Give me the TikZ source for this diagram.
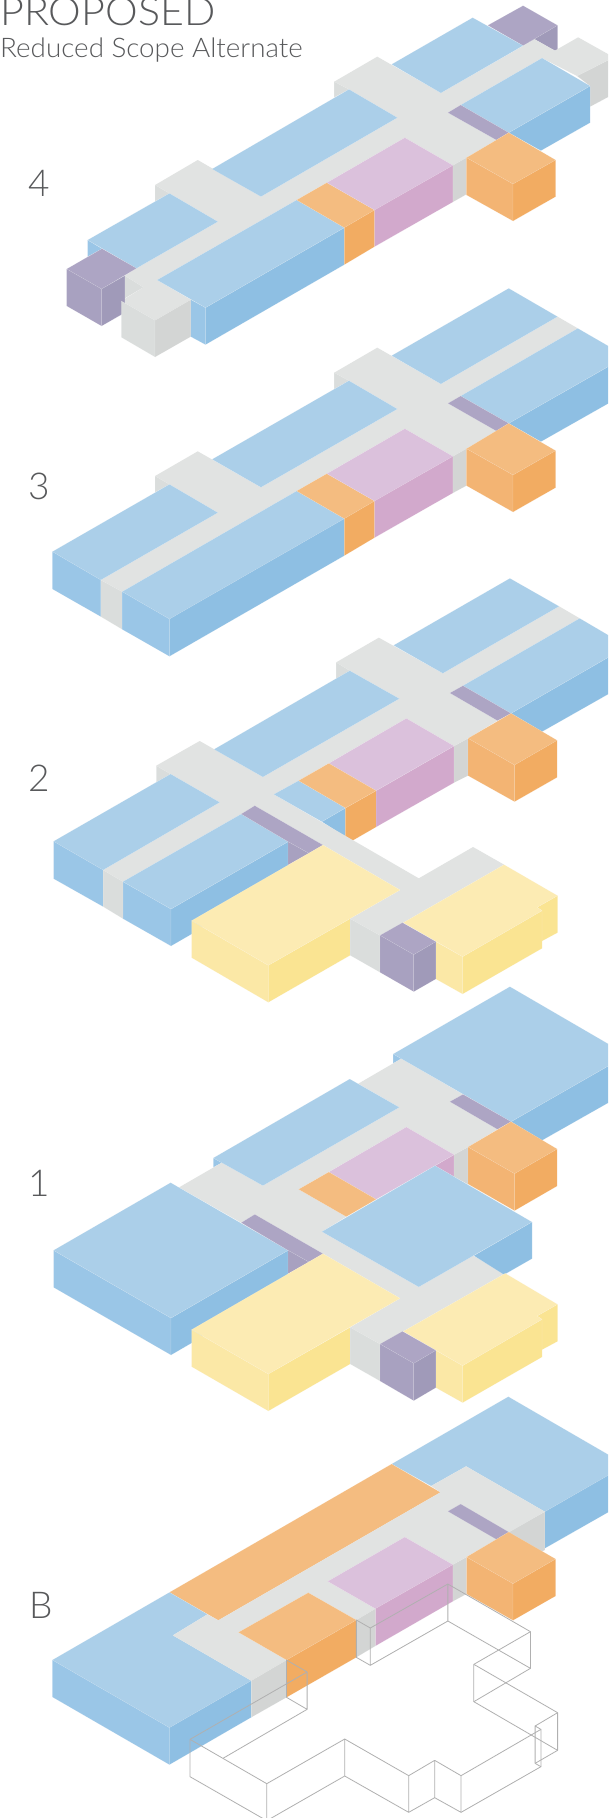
\documentclass[tikz,border=0pt]{standalone}
\usepackage{fontspec}
\setmainfont{Lato Light}
\definecolor{cbt}{HTML}{ABCFE9}\definecolor{cbr}{HTML}{8EBFE3}\definecolor{cbl}{HTML}{9AC6E7}
\definecolor{cgt}{HTML}{E1E3E2}\definecolor{cgr}{HTML}{D3D5D4}\definecolor{cgl}{HTML}{DADDDC}
\definecolor{cot}{HTML}{F4BC80}\definecolor{col}{HTML}{F3B473}\definecolor{cor}{HTML}{F2AC62}
\definecolor{cpt}{HTML}{DBC1DC}\definecolor{cpr}{HTML}{D2A9CC}
\definecolor{cvt}{HTML}{ADA5C4}\definecolor{cvl}{HTML}{A8A1C0}\definecolor{cvr}{HTML}{A09AB9}
\definecolor{cyt}{HTML}{FCEBB3}\definecolor{cyl}{HTML}{FBE8A6}\definecolor{cyr}{HTML}{FAE492}
\definecolor{ctxt}{HTML}{58595B}
\tikzset{
 face/.style={draw=white,draw opacity=.25,line width=.25pt,line join=round},
 bt/.style={face,fill=cbt},br/.style={face,fill=cbr},bl/.style={face,fill=cbl},
 gt/.style={fill=cgt},gr/.style={face,fill=cgr},gl/.style={face,fill=cgl},
 ot/.style={face,fill=cot},ol/.style={face,fill=col},or/.style={face,fill=cor},
 pt/.style={face,fill=cpt},pr/.style={face,fill=cpr},
 vt/.style={face,fill=cvt},vl/.style={face,fill=cvl},vr/.style={face,fill=cvr},
 yt/.style={face,fill=cyt},yl/.style={face,fill=cyl},yr/.style={face,fill=cyr},
 wire/.style={draw=black!31,line width=.8pt,line join=round},
 numlabel/.style={text=ctxt,font=\fontsize{37}{37}\selectfont,anchor=base,inner sep=0pt},
}
\newcommand{\pg}[2]{\path[#1] plot coordinates {#2} -- cycle;}
\newcommand{\wl}[1]{\draw[wire] plot coordinates {#1};}
\begin{document}
\begin{tikzpicture}[x=1pt,y=-1pt]
\useasboundingbox (0,0) rectangle (608,1818);
\clip (0,0) rectangle (608,1818);
\fill[white] (0,0) rectangle (608,1818);
\node[text=ctxt,anchor=base west,inner sep=0pt,font=\fontsize{39}{39}\selectfont,xscale=1.057,transform shape] (title) at (0,25) {PROPOSED};
\node[text=ctxt,anchor=base west,inner sep=0pt,font=\fontsize{27}{27}\selectfont,xscale=1.03,transform shape] (subtitle) at (0,57) {Reduced Scope Alternate};
\node[numlabel] (n4) at (39,196) {4};
\node[numlabel] (n3) at (39,499) {3};
\node[numlabel] (n2) at (39,791) {2};
\node[numlabel] (n1) at (39,1196) {1};
\node[numlabel] (nB) at (41,1618) {B};
% ---- 4
\begin{scope}[shift={(0,0)},x=0.38776pt,y=-0.33333pt]
\pg{vt}{(1349,17)(1438,76)(1349,137)(1258,76)}
\pg{vr}{(1349,137)(1438,76)(1438,150)(1431,152)(1379,118)}
\pg{gr}{(1488,228)(1583,172)(1583,282)(1522,320)(1522,258)}
\pg{gl}{(862,245)(900,268)(862,292)}
\pg{gl}{(400,555)(437,580)(400,604)}
\pg{bl}{(226,720)(263,746)(226,770)}
\pg{gt}{(973,170)(1137,279)(1379,118)(1431,152)(1491,112)(1583,172)(1488,228)(1398,174)(1188,315)(1155,338)(1280,420)(1203,473)(1168,496)(1044,413)(765,600)(405,840)(492,899)(400,961)(313,903)(370,862)(322,827)(352,805)(562,665)(437,580)(400,555)(510,480)(673,590)(1025,353)(900,268)(862,245)}
\pg{gl}{(322,827)(370,862)(322,895)}
\pg{bt}{(1219,53)(1349,137)(1137,279)(1010,193)}
\pg{bt}{(900,268)(1025,353)(673,590)(547,507)}
\pg{bt}{(226,720)(437,580)(562,665)(352,805)}
\pg{vt}{(263,746)(352,805)(262,867)(172,807)}
\pg{vl}{(172,807)(262,867)(262,978)(172,918)}
\pg{vr}{(262,867)(322,827)(322,938)(262,978)}
\pg{gl}{(313,903)(400,961)(400,1071)(313,1012)}
\pg{gr}{(400,961)(492,899)(492,1010)(400,1071)}
\pg{bl}{(492,899)(530,923)(530,1034)(492,1010)}
\pg{br}{(530,923)(888,683)(888,794)(530,1034)}
\pg{bt}{(405,840)(765,600)(888,683)(530,923)}
\pg{ot}{(765,600)(843,548)(966,630)(888,683)}
\pg{or}{(888,683)(966,630)(966,740)(888,794)}
\pg{pt}{(843,548)(1044,413)(1168,496)(966,630)}
\pg{pr}{(966,630)(1168,496)(1168,606)(966,740)}
\pg{gr}{(1168,496)(1203,473)(1203,583)(1168,606)}
\pg{br}{(1312,398)(1522,258)(1522,368)(1395,452)}
\pg{bt}{(1398,174)(1522,258)(1312,398)(1188,315)}
\pg{vt}{(1155,338)(1188,315)(1312,398)(1280,420)}
\pg{ot}{(1312,398)(1433,480)(1323,552)(1203,473)}
\pg{ol}{(1203,473)(1323,552)(1323,663)(1203,585)}
\pg{or}{(1323,552)(1433,480)(1433,590)(1323,663)}
\end{scope}
% ---- 3
\begin{scope}[shift={(0,270)},x=0.38776pt,y=-0.33333pt]
\pg{gl}{(862,308)(900,332)(862,357)}
\pg{gl}{(400,618)(437,643)(400,667)}
\pg{gt}{(973,233)(1137,342)(1438,140)(1490,175)(1188,378)(1155,400)(1280,483)(1203,536)(1168,559)(1044,476)(765,663)(315,965)(260,930)(562,728)(437,643)(400,618)(510,544)(673,652)(1025,417)(900,332)(862,308)}
\pg{bt}{(1312,55)(1438,140)(1137,342)(1010,257)}
\pg{bt}{(900,332)(1025,417)(673,652)(547,568)}
\pg{br}{(1312,460)(1615,259)(1615,370)(1395,515)}
\pg{bt}{(1490,175)(1615,259)(1312,460)(1188,378)}
\pg{vt}{(1155,400)(1188,378)(1312,460)(1280,483)}
\pg{bt}{(135,845)(437,643)(562,728)(260,930)}
\pg{bl}{(135,845)(260,930)(260,1040)(135,957)}
\pg{gl}{(260,930)(315,965)(315,1078)(260,1040)}
\pg{bt}{(315,965)(765,663)(888,746)(437,1047)}
\pg{br}{(437,1047)(888,746)(888,857)(437,1159)}
\pg{bl}{(315,965)(437,1047)(437,1159)(315,1078)}
\pg{ot}{(765,663)(843,611)(966,693)(888,746)}
\pg{or}{(888,746)(966,693)(966,803)(888,857)}
\pg{pt}{(843,611)(1044,476)(1168,559)(966,693)}
\pg{pr}{(966,693)(1168,559)(1168,669)(966,803)}
\pg{gr}{(1168,559)(1203,536)(1203,647)(1168,669)}
\pg{ot}{(1312,460)(1433,542)(1323,615)(1203,536)}
\pg{ol}{(1203,536)(1323,615)(1323,726)(1203,647)}
\pg{or}{(1323,615)(1433,542)(1433,653)(1323,726)}
\end{scope}
% ---- 2
\begin{scope}[shift={(0,570)},x=0.38776pt,y=-0.33333pt]
\pg{gl}{(867,277)(902,302)(867,326)}
\pg{gl}{(403,587)(440,612)(403,637)}
\pg{br}{(830,755)(891,714)(891,800)}
\pg{or}{(891,714)(970,662)(970,771)(891,824)}
\pg{pr}{(970,662)(1171,528)(1171,638)(970,771)}
\pg{gr}{(1171,528)(1207,505)(1207,617)(1171,638)}
\pg{br}{(1318,430)(1618,229)(1618,340)(1398,485)}
\pg{bl}{(317,935)(441,1017)(441,1128)(317,1046)}
\pg{br}{(441,1017)(743,815)(743,925)(441,1128)}
\pg{gt}{(977,203)(1142,310)(1442,109)(1495,145)(1194,347)(1160,369)(1283,452)(1207,505)(1171,528)(1048,445)(770,632)(706,673)(1080,925)(1220,831)(1300,884)(1040,1058)(980,1096)(903,1046)(1032,960)(833,825)(657,707)(622,732)(317,935)(266,900)(567,697)(440,612)(403,587)(515,513)(678,621)(1030,386)(902,302)(867,277)}
\pg{bt}{(1315,25)(1442,109)(1142,310)(1015,226)}
\pg{bt}{(706,673)(770,632)(891,714)(830,755)}
\pg{bt}{(1495,145)(1618,229)(1318,430)(1194,347)}
\pg{vt}{(1160,369)(1194,347)(1318,430)(1283,452)}
\pg{ot}{(1318,430)(1437,511)(1327,585)(1207,505)}
\pg{ol}{(1207,505)(1327,585)(1327,695)(1207,617)}
\pg{or}{(1327,585)(1437,511)(1437,622)(1327,695)}
\pg{pt}{(848,580)(1048,445)(1171,528)(970,662)}
\pg{ot}{(770,632)(848,580)(970,662)(891,714)}
\pg{bt}{(902,302)(1030,386)(678,621)(552,538)}
\pg{bt}{(138,814)(440,612)(567,697)(266,900)}
\pg{bl}{(138,814)(266,900)(266,1010)(138,926)}
\pg{gl}{(266,900)(317,935)(317,1046)(266,1010)}
\pg{bt}{(317,935)(622,732)(743,815)(441,1017)}
\pg{vt}{(622,732)(657,707)(833,825)(797,850)(743,815)}
\pg{vl}{(743,815)(797,850)(743,885)}
\pg{yl}{(494,1052)(692,1186)(692,1297)(494,1163)}
\pg{yr}{(692,1186)(903,1046)(903,1156)(692,1297)}
\pg{yt}{(833,825)(1032,960)(692,1186)(494,1052)}
\pg{gl}{(903,1046)(980,1096)(980,1207)(903,1156)}
\pg{yr}{(1385,1012)(1438,977)(1438,1088)(1398,1113)(1398,1022)}
\pg{yl}{(1124,1115)(1193,1160)(1193,1272)(1124,1227)}
\pg{yr}{(1193,1160)(1398,1022)(1398,1135)(1193,1272)}
\pg{yt}{(1300,884)(1438,977)(1385,1012)(1398,1022)(1193,1160)(1040,1058)}
\pg{vt}{(1038,1058)(1124,1115)(1067,1154)(980,1096)}
\pg{vl}{(980,1096)(1067,1154)(1067,1265)(980,1207)}
\pg{vr}{(1067,1154)(1124,1115)(1124,1227)(1067,1265)}
\end{scope}
% ---- 1
\begin{scope}[shift={(0,980)},x=0.38776pt,y=-0.33333pt]
\pg{bl}{(1014,222)(1035,236)(1014,250)}
\pg{bl}{(550,534)(572,548)(550,562)}
\pg{br}{(1318,425)(1618,225)(1618,336)(1398,481)}
\pg{pr}{(1122,557)(1171,524)(1171,590)}
\pg{gr}{(1171,524)(1207,501)(1207,613)(1171,590)}
\pg{gt}{(1035,236)(1194,343)(1160,365)(1283,448)(1207,501)(1171,524)(1048,441)(770,628)(893,710)(830,755)(1080,921)(1220,827)(1303,880)(1040,1054)(980,1092)(903,1042)(1032,955)(833,821)(657,703)(622,728)(462,622)(572,548)(678,617)(1030,382)(924,311)}
\pg{bt}{(1315,20)(1618,225)(1318,425)(1014,222)}
\pg{vt}{(1160,365)(1194,343)(1318,425)(1283,448)}
\pg{bt}{(902,297)(1030,382)(678,617)(550,534)}
\pg{pt}{(848,576)(1048,441)(1171,524)(970,658)}
\pg{ot}{(770,628)(848,576)(970,658)(893,710)}
\pg{ot}{(1318,425)(1437,507)(1327,581)(1207,501)}
\pg{ol}{(1207,501)(1327,581)(1327,692)(1207,612)}
\pg{or}{(1327,581)(1437,507)(1437,618)(1327,692)}
\pg{br}{(1222,827)(1372,726)(1372,836)(1300,884)}
\pg{bt}{(1122,557)(1372,726)(1080,921)(830,755)}
\pg{bl}{(138,811)(441,1014)(441,1125)(138,922)}
\pg{br}{(441,1014)(743,811)(743,921)(441,1125)}
\pg{bt}{(138,811)(440,608)(743,811)(441,1014)}
\pg{vt}{(622,728)(657,703)(833,821)(797,846)(743,811)}
\pg{vl}{(743,811)(797,846)(743,881)}
\pg{yl}{(494,1049)(692,1182)(692,1293)(494,1160)}
\pg{yr}{(692,1182)(903,1042)(903,1152)(692,1293)}
\pg{yt}{(833,821)(1032,955)(692,1182)(494,1049)}
\pg{gl}{(903,1042)(980,1092)(980,1203)(903,1152)}
\pg{yr}{(1385,1008)(1438,973)(1438,1084)(1398,1109)(1398,1018)}
\pg{yl}{(1124,1111)(1193,1157)(1193,1268)(1124,1223)}
\pg{yr}{(1193,1157)(1398,1018)(1398,1131)(1193,1268)}
\pg{yt}{(1303,880)(1438,973)(1385,1008)(1398,1018)(1193,1157)(1040,1054)}
\pg{vt}{(1038,1054)(1124,1111)(1067,1150)(980,1092)}
\pg{vl}{(980,1092)(1067,1150)(1067,1262)(980,1203)}
\pg{vr}{(1067,1150)(1124,1111)(1124,1223)(1067,1262)}
\end{scope}
% ---- B
\begin{scope}[shift={(0,1390)},x=0.38776pt,y=-0.33333pt]
\pg{bt}{(1311,20)(1615,225)(1405,365)(1202,229)(1112,288)(1010,222)}
\pg{br}{(1405,365)(1615,225)(1615,336)(1405,475)}
\pg{ot}{(1010,222)(1136,307)(563,691)(437,607)}
\pg{bt}{(135,810)(437,607)(535,673)(446,736)(648,872)(437,1013)}
\pg{bl}{(135,810)(437,1013)(437,1124)(135,921)}
\pg{br}{(437,1013)(648,872)(648,982)(437,1124)}
\pg{gr}{(1312,426)(1405,365)(1405,480)(1312,540)}
\pg{gt}{(1202,229)(1405,365)(1168,524)(1044,441)(845,574)(968,656)(919,690)(795,608)(615,727)(739,810)(648,872)(446,736)(535,673)(563,691)(1136,307)(1112,288)}
\pg{vt}{(1155,364)(1188,342)(1312,426)(1280,448)}
\pg{ot}{(1312,426)(1433,507)(1323,581)(1203,501)}
\pg{ol}{(1203,501)(1323,581)(1323,691)(1203,612)}
\pg{or}{(1323,581)(1433,507)(1433,618)(1323,691)}
\pg{pt}{(845,574)(1044,441)(1168,524)(968,656)}
\pg{pr}{(968,656)(1168,524)(1168,634)(968,768)}
\pg{gr}{(1168,524)(1203,501)(1203,612)(1168,634)}
\pg{gr}{(919,690)(968,656)(968,768)(919,802)}
\pg{ot}{(795,608)(919,690)(739,810)(615,727)}
\pg{or}{(739,810)(919,690)(919,802)(739,922)}
\pg{gr}{(648,872)(739,810)(739,922)(648,982)}
\wl{(739,922)(739,810)(792,846)(792,958)(739,922)}
\wl{(792,846)(490,1048)(490,1160)(688,1292)(688,1181)(490,1048)}
\wl{(792,958)(575,1105)}
\wl{(688,1181)(889,1047)(889,1158)(688,1292)}
\wl{(889,1047)(1054,1157)(1054,1267)(889,1158)}
\wl{(1054,1157)(1121,1111)(1121,1223)(1054,1267)}
\wl{(1121,1111)(1189,1157)(1189,1267)(1121,1223)}
\wl{(1189,1157)(1395,1018)(1395,1130)(1189,1267)}
\wl{(1395,1018)(1380,1008)(1380,1120)(1395,1130)}
\wl{(1380,1008)(1438,968)(1438,1081)(1380,1120)}
\wl{(1438,968)(1222,823)(1222,935)(1438,1081)}
\wl{(1222,823)(1368,725)(1368,835)(1222,935)}
\wl{(1368,725)(1155,582)(1155,693)(1368,835)}
\wl{(1155,582)(955,714)(955,826)(1155,693)}
\wl{(955,714)(919,690)(919,802)(955,826)}
\end{scope}
\end{tikzpicture}
\end{document}
